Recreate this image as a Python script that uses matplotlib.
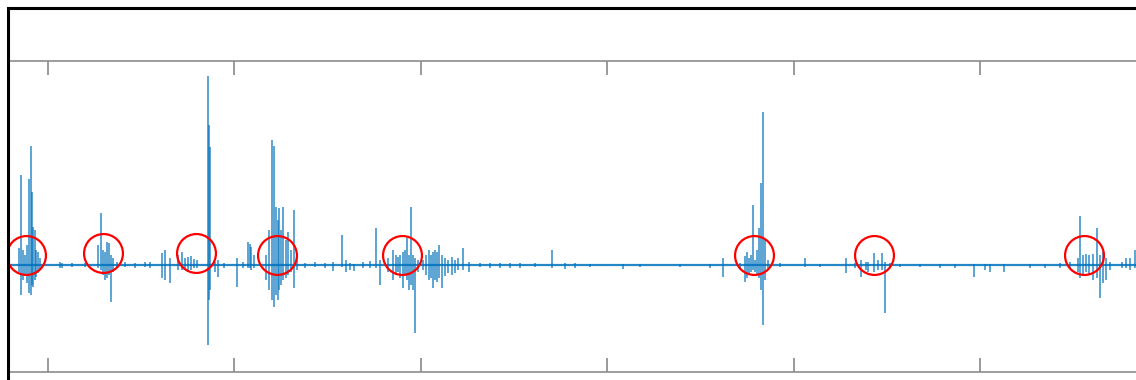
import matplotlib
matplotlib.use('Agg')
import matplotlib.pyplot as plt
from matplotlib.patches import Rectangle

# Spike events: sample index, peak above baseline, trough below baseline #
spike_t = [19, 21, 23, 25, 27, 29, 31, 32, 33, 35, 36, 38, 40, 60, 62, 72, 85,
           98, 101, 103, 105, 107, 109, 111, 113, 117, 125, 135, 145, 150,
           162, 165, 170, 178, 182, 185, 188, 191, 194, 197, 208, 209, 210, 215, 218, 224,
           237, 243, 248, 250, 251, 254,
           266, 269, 272, 274, 276, 278, 279, 281, 283, 286, 288, 291, 294, 297,
           305, 315, 325, 333, 342, 346, 350, 354, 363, 370, 376, 380,
           388, 393, 396, 398, 400, 403, 405, 407, 409, 411, 413, 415, 418, 423, 426, 429,
           431, 433, 435, 437, 439, 442, 445, 448, 452, 455, 458, 463, 469,
           480, 490, 500, 510, 520, 535, 552, 565, 575, 590, 623, 640, 680, 710, 723, 740,
           745, 747, 749, 751, 753, 755, 757, 759, 761, 763, 765, 768, 780, 805, 820, 846, 855,
           861, 866, 868, 874, 878, 882, 885, 890, 900, 920, 940, 955, 974, 985, 990, 1004,
           1030, 1045, 1060, 1070, 1078, 1080, 1083, 1086, 1089, 1093, 1097, 1100, 1103, 1106,
           1110, 1122, 1126, 1130, 1135]
spike_hi = [17, 90, 15, 10, 20, 86, 119, 73, 38, 35, 15, 13, 7, 3, 2, 2, 2,
            20, 52, 15, 13, 23, 22, 10, 7, 3, 3, 2, 3, 3,
            12, 15, 7, 10, 13, 7, 8, 9, 6, 5, 189, 140, 118, 3, 5, 2,
            7, 3, 23, 21, 18, 10,
            10, 35, 125, 119, 58, 45, 57, 35, 58, 25, 33, 15, 55, 7,
            2, 3, 2, 3, 30, 5, 2, 1, 3, 4, 37, 5,
            7, 15, 10, 8, 10, 13, 15, 27, 10, 58, 10, 7, 5, 5, 10, 15,
            10, 13, 15, 13, 20, 10, 7, 5, 8, 5, 7, 17, 3,
            2, 2, 2, 2, 2, 2, 15, 2, 2, 1, 1, 1, 1, 1, 7, 2,
            9, 13, 7, 10, 60, 5, 15, 37, 82, 153, 25, 5, 2, 7, 1, 7, 2,
            5, 3, 3, 12, 5, 12, 3, 2, 1, 1, 1, 1, 1, 1, 1, 1,
            1, 1, 2, 3, 7, 49, 10, 11, 10, 11, 37, 10, 13, 7,
            3, 3, 7, 7, 15]
spike_lo = [-7, -30, -15, -10, -18, -28, -30, -20, -22, -15, -12, -8, -5, -3, -3, -2, -2,
            -3, -5, -10, -15, -13, -10, -37, -7, -3, -2, -3, -2, -3,
            -13, -15, -18, -5, -5, -3, -7, -5, -3, -3, -80, -35, -25, -7, -12, -3,
            -22, -3, -3, -3, -5, -3,
            -15, -25, -35, -42, -30, -35, -25, -20, -15, -13, -10, -7, -23, -5,
            -3, -2, -3, -6, -2, -7, -5, -6, -3, -3, -3, -20,
            -7, -15, -10, -7, -13, -23, -10, -15, -25, -20, -25, -68, -7, -5, -10, -15,
            -13, -23, -15, -17, -13, -23, -11, -8, -10, -8, -5, -5, -7,
            -2, -3, -3, -3, -3, -2, -3, -4, -3, -2, -4, -2, -2, -3, -12, -3,
            -17, -13, -10, -7, -5, -7, -10, -13, -25, -60, -15, -5, -2, -2, -2, -8, -3,
            -12, -5, -7, -7, -5, -5, -48, -3, -2, -2, -3, -3, -12, -5, -7, -7,
            -3, -3, -3, -3, -7, -13, -10, -7, -10, -15, -13, -33, -18, -15,
            -5, -3, -3, -5, -3]

# Marked events (red circles) #
circle_t = [26, 103, 196, 277, 402, 754, 874, 1084]
circle_a = [10, 12, 12, 10, 10, 10, 10, 10]

tick_t = [48, 234, 421, 607, 794, 980]

sig_color = '#0072BD'

fig = plt.figure(figsize=(11.36, 3.80), dpi=100)
ax = fig.add_axes([8 / 1136, 1 - 372 / 380, 1152 / 1136, 311 / 380])

ax.axhline(0, color=sig_color, lw=1.6, alpha=0.85)
ax.vlines(spike_t, spike_lo, spike_hi, color=sig_color, lw=1.2, alpha=0.75)
ax.plot(circle_t, circle_a, 'o', ms=28, mfc='none', mec='red', mew=1.6)

ax.set_xlim(8, 1160)
ax.set_ylim(-107, 204)
ax.set_xticks(tick_t)
ax.set_yticks([])
ax.tick_params(axis='x', direction='in', length=10, width=1.1, color='#7f7f7f',
               top=True, bottom=True, labelbottom=False, labeltop=False)
for side in ['left', 'right']:
    ax.spines[side].set_visible(False)
for side in ['top', 'bottom']:
    ax.spines[side].set_color('#8c8c8c')
    ax.spines[side].set_linewidth(1.2)

# Outer black frame (only top and left edges fall inside the picture) #
fig.add_artist(Rectangle((7.5 / 1136, -1), 2, 2 - 7.5 / 380, transform=fig.transFigure,
                         fill=False, ec='black', lw=2.2))

fig.savefig('out.png', dpi=100)
